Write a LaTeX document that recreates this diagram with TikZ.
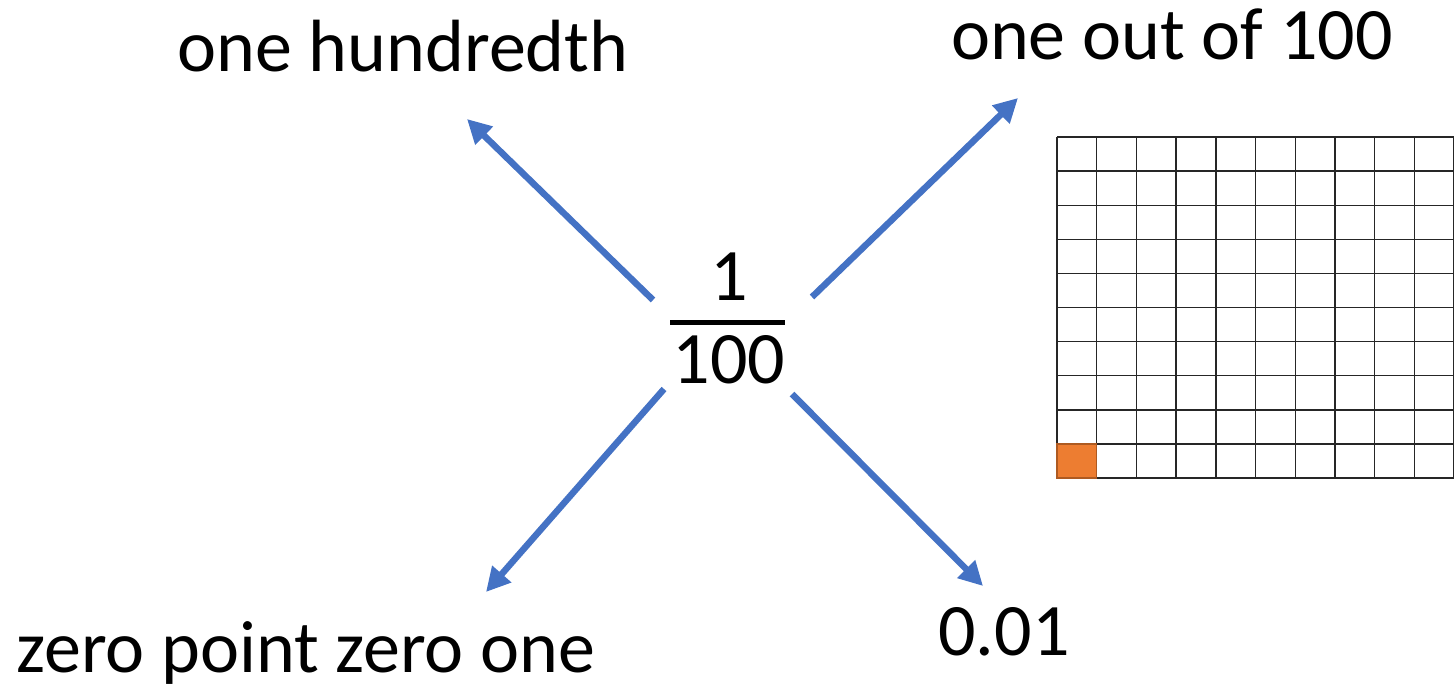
\documentclass[tikz,border=0pt]{standalone}
\usepackage{fontspec}
\setmainfont{Carlito}
\usetikzlibrary{arrows.meta}
\definecolor{arrowblue}{HTML}{4472C4}
\definecolor{cellorange}{HTML}{ED7D31}
\definecolor{celledge}{HTML}{AE5A21}
\begin{document}
\begin{tikzpicture}[x=1pt,y=-1pt,
  lbl/.style={font=\fontsize{74}{88}\selectfont, inner sep=0pt, anchor=base},
  fracnum/.style={font=\fontsize{74}{88}\selectfont, inner sep=0pt, anchor=base},
  conn/.style={arrowblue, line width=6.5pt, -{Triangle[length=24pt,width=24pt]}},
  gridline/.style={black!85, line width=1.4pt}]
\useasboundingbox (0,0) rectangle (1454,690);
% labels
\node[lbl] (hund) at (403,72) {one hundredth};
\node[lbl] (outof) at (1172,60) {one out of 100};
\node[lbl] (zero) at (306,672) {zero point zero one};
\node[lbl] (dec) at (1004,655) {0.01};
% fraction
\node[fracnum] (num) at (729,300) {1};
\node[fracnum] (den) at (729,383) {100};
\coordinate (barL) at (670,322.5);
\coordinate (barR) at (785,322.5);
\draw[line width=4.5pt] (barL) -- (barR);
% arrows
\coordinate (s1) at (653,300); \coordinate (t1) at (467,119);
\coordinate (s2) at (812,297); \coordinate (t2) at (1018,98);
\coordinate (s3) at (664,389); \coordinate (t3) at (486,592);
\coordinate (s4) at (792,394); \coordinate (t4) at (983,586);
\draw[conn] (s1) -- (t1);
\draw[conn] (s2) -- (t2);
\draw[conn] (s3) -- (t3);
\draw[conn] (s4) -- (t4);
% hundred grid
\fill[cellorange] (1057,443.9) rectangle (1096.7,478);
\foreach \i in {0,...,10} {
  \draw[gridline] ({1057+\i*39.7},137) -- ({1057+\i*39.7},478);
  \draw[gridline] (1057,{137+\i*34.1}) -- (1454,{137+\i*34.1});
}
\draw[celledge, line width=1.4pt] (1057,443.9) rectangle (1096.7,478);
\end{tikzpicture}
\end{document}
